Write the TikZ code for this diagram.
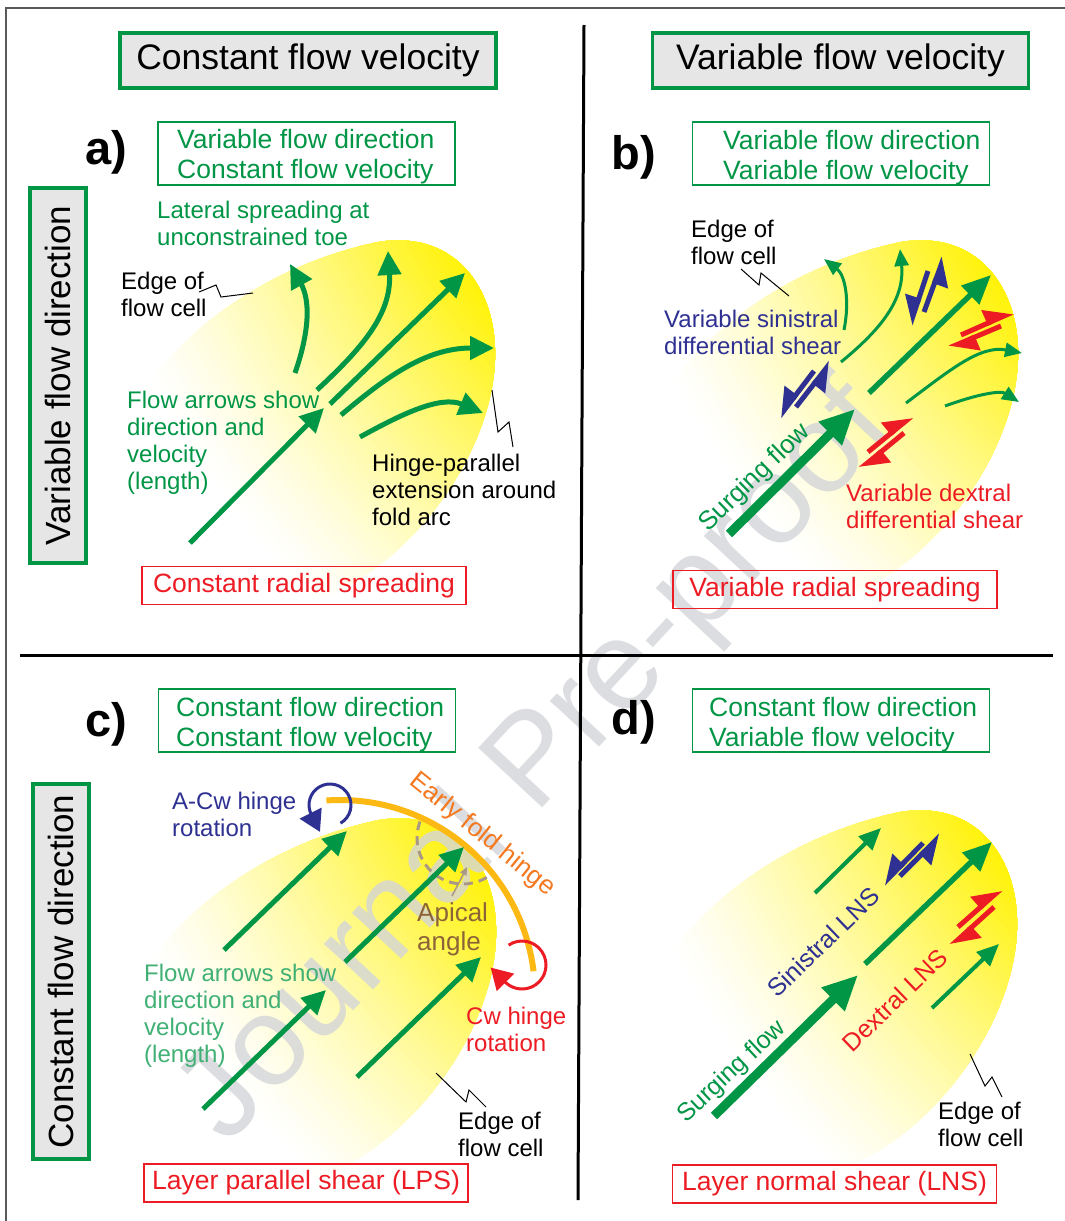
\documentclass[tikz,border=0pt]{standalone}
\usepackage{fontspec}
\setmainfont{Liberation Sans}
\usetikzlibrary{arrows.meta}
\definecolor{mygreen}{RGB}{0,150,70}
\definecolor{myred}{RGB}{237,28,36}
\definecolor{navy}{RGB}{46,49,146}
\definecolor{boxgray}{RGB}{230,230,230}
\definecolor{foldorange}{RGB}{253,185,19}
\definecolor{hingetext}{RGB}{244,121,32}
\definecolor{apical}{RGB}{140,100,55}
\definecolor{apicalgray}{RGB}{170,152,135}
\definecolor{wmark}{RGB}{212,213,217}
\begin{document}
\begin{tikzpicture}[x=1pt,y=-1pt,
  titlebox/.style={draw=mygreen, line width=3.5pt, fill=boxgray, minimum width=376pt, minimum height=55pt, inner sep=0pt, font=\fontsize{35.5}{40}\selectfont},
  sidebox/.style={draw=mygreen, line width=4pt, fill=boxgray, minimum width=375pt, minimum height=56pt, inner sep=0pt, rotate=90, font=\fontsize{35}{40}\selectfont},
  subbox/.style={draw=mygreen, line width=1.5pt, minimum width=297pt, minimum height=63pt, inner sep=0pt},
  subtxt/.style={text=mygreen, align=left, anchor=north west, inner sep=0pt, font=\fontsize{26.5}{30}\selectfont},
  redbox/.style={draw=myred, line width=1.5pt, minimum width=324pt, minimum height=38pt, inner sep=0pt, text=myred, font=\fontsize{26.5}{30}\selectfont},
  note/.style={align=left, anchor=north west, inner sep=0pt, font=\fontsize{24}{27}\selectfont},
  rottxt/.style={inner sep=0pt, font=\fontsize{25}{27}\selectfont},
  panlab/.style={inner sep=0pt, font=\fontsize{47}{50}\selectfont\bfseries},
  divider/.style={line width=3pt, black},
  leader/.style={line width=1pt, black},
  garrow/.style={draw=mygreen, line width=5pt, -{Triangle[length=24pt,width=23pt]}},
  gthick/.style={draw=mygreen, line width=9pt, -{Triangle[length=35pt,width=31pt]}},
  gmed/.style={draw=mygreen, line width=5.5pt, -{Triangle[length=29pt,width=25pt]}},
  gthin/.style={draw=mygreen, line width=3pt, -{Triangle[length=17pt,width=14pt]}},
  gthintwo/.style={draw=mygreen, line width=4pt, -{Triangle[length=22pt,width=19pt]}},
  sinharp/.style={draw=navy, line width=5pt, -{Stealth[harpoon,swap,inset=0pt,length=24pt,width=28pt]}},
  dexharp/.style={draw=myred, line width=5pt, -{Stealth[harpoon,inset=0pt,length=24pt,width=28pt]}},
  rotarrow/.style={line width=3pt, -{Triangle[length=21pt,width=24pt]}}
]
\useasboundingbox (0,0) rectangle (1065,1221);
\fill[white] (0,0) rectangle (1065,1221);

% yellow flow cells (graded fill, yellow at the upper-right apex)
\foreach \dx/\dy in {-522/-570, 1/-570, -521/8, 0/0} {
  \begin{scope}[shift={(\dx,\dy)}]
    \clip (640,1100) .. controls (600,1000) and (720,850) .. (900,812)
      .. controls (975,800) and (1015,855) .. (1017,918)
      .. controls (1020,1000) and (960,1100) .. (880,1150)
      .. controls (800,1200) and (680,1190) .. cycle;
    \foreach \r in {940,934,...,598} {
      \pgfmathsetmacro\p{min(100,100*(max(0.001,(940-\r)/340))^1.3)}
      \fill[yellow!\p!white] (1500,513) circle (\r);
    }
  \end{scope}
}

% watermark
\node[font=\fontsize{127}{130}\selectfont, text=wmark, text opacity=0.8, rotate=47, inner sep=0pt] (wm) at (538,765) {Journal Pre-proof};

% frame and dividers
\draw[gray!70!black, line width=1.2pt] (6,1221) -- (6,8) -- (1065,8);
\coordinate (vtop) at (584,25);
\coordinate (vbot) at (578,1200);
\coordinate (hleft) at (20,655);
\coordinate (hright) at (1053,655);
\draw[divider] (vtop) -- (vbot);
\draw[divider] (hleft) -- (hright);

% headers
\node[titlebox] (tA) at (308,60.5) {Constant flow velocity};
\node[titlebox] (tB) at (840.5,60.5) {Variable flow velocity};
\node[sidebox] (sA) at (58,375.5) {Variable flow direction};
\node[sidebox] (sC) at (61,971.5) {Constant flow direction};

% panel labels
\node[panlab] (la) at (106,152) {a)};
\node[panlab] (lb) at (634,157) {b)};
\node[panlab] (lc) at (106,724) {c)};
\node[panlab] (ld) at (634,722) {d)};

% subtitle boxes
\node[subbox] (bA) at (306.5,153.5) {};
\node[subtxt] (bAt) at (177,129.4) {Variable flow direction\\Constant flow velocity};
\node[subbox] (bB) at (841,153.5) {};
\node[subtxt] (bBt) at (723,130.4) {Variable flow direction\\Variable flow velocity};
\node[subbox] (bC) at (307,720.5) {};
\node[subtxt] (bCt) at (176,697.4) {Constant flow direction\\Constant flow velocity};
\node[subbox] (bD) at (841,720.5) {};
\node[subtxt] (bDt) at (709,697.4) {Constant flow direction\\Variable flow velocity};

% bottom red boxes
\node[redbox] (rA) at (304,585.5) {Constant radial spreading};
\node[redbox] (rB) at (835,589.5) {Variable radial spreading};
\node[redbox] (rC) at (306,1183) {Layer parallel shear (LPS)};
\node[redbox] (rD) at (834.5,1184) {Layer normal shear (LNS)};

% ---------- panel a ----------
\node[note, text=mygreen] (latA) at (157,201.4) {Lateral spreading at\\unconstrained toe};
\node[note] (edgeA) at (121,272.4) {Edge of\\flow cell};
\node[note, text=mygreen] (flowA) at (127,391.4) {Flow arrows show\\direction and\\velocity\\(length)};
\node[note] (hingeA) at (372,454.4) {Hinge-parallel\\extension around\\fold arc};
\draw[leader] (199,292) -- (216,285) -- (221,297) -- (253,293);
\draw[leader] (492,390) -- (498,432) -- (509,422) -- (513,447);
\draw[garrow] (295,373) .. controls (310,330) and (310,300) .. (290,264);
\draw[garrow] (317,390) .. controls (360,350) and (392,315) .. (388,251);
\draw[garrow] (190,543) -- (324,408);
\draw[garrow] (330,404) -- (465,273);
\draw[garrow] (341,415) .. controls (385,378) and (425,348) .. (494,348);
\draw[garrow] (360,437) .. controls (400,415) and (440,395) .. (483,413);

% ---------- panel b ----------
\node[note] (edgeB) at (691,220.4) {Edge of\\flow cell};
\node[note, text=navy] (sinB) at (664,310.4) {Variable sinistral\\differential shear};
\node[note, text=myred] (dexB) at (846,484.4) {Variable dextral\\differential shear};
\draw[leader] (741,269) -- (759,285) -- (761,273) -- (789,296);
\draw[gthin] (844,330) .. controls (850,300) and (845,275) .. (824,259);
\draw[gthin] (841,362) .. controls (880,330) and (905,300) .. (900,249);
\draw[gthin] (906,403) .. controls (950,370) and (980,345) .. (1022,353);
\draw[gthin] (945,406) .. controls (975,395) and (1000,390) .. (1019,402);
\draw[gthick] (729,534) -- (855,409);
\draw[gmed] (869,393) -- (991,275);
\draw[sinharp] (928,271) -- (910,325);
\draw[sinharp] (924,312) -- (944,257);
\draw[sinharp] (814,371) -- (779,417);
\draw[sinharp] (796,407) -- (831,362);
\draw[dexharp] (961,335) -- (1013,312);
\draw[dexharp] (1001,326) -- (949,348);
\draw[dexharp] (868,452) -- (912,416);
\draw[dexharp] (904,433) -- (860,469);
\node[rottxt, text=mygreen, rotate=44, font=\fontsize{26}{28}\selectfont] (surgeB) at (755,478) {Surging flow};

% ---------- panel c ----------
\draw[foldorange, line width=6pt] (340,995) ++(-94:195) arc[start angle=-94, end angle=-7, radius=195];
\draw[apicalgray, line width=3pt, dash pattern=on 9pt off 6pt] (463,838) ++(201:46) arc[start angle=201, end angle=56, radius=46];
\draw[apicalgray, line width=1.5pt, -{Triangle[length=8pt,width=7pt]}] (452,896) -- (467,867);
\draw[navy, rotarrow] (330,805) ++(60:21) arc[start angle=60, end angle=-205, radius=21] -- ++(9,18);
\draw[myred, rotarrow] (522,965) ++(-124:24) arc[start angle=-124, end angle=133, radius=24] -- ++(-15,-15);
\draw[garrow] (224,950) -- (347,831);
\draw[garrow] (345,962) -- (464,847);
\draw[garrow] (203,1109) -- (326,990);
\draw[garrow] (357,1077) -- (481,957);
\node[note, text=navy] (acwC) at (172,791.4) {A-Cw hinge\\rotation};
\node[note, text=apical, font=\fontsize{26}{29}\selectfont] (apC) at (417,902.6) {Apical\\angle};
\node[note, text=mygreen!75!white] (flowC) at (144,963.4) {Flow arrows show\\direction and\\velocity\\(length)};
\node[note, text=myred] (cwC) at (466,1006.4) {Cw hinge\\rotation};
\node[note] (edgeC) at (458,1111.4) {Edge of\\flow cell};
\draw[leader] (436,1073) -- (466,1102) -- (469,1090) -- (486,1107);
\node[rottxt, text=hingetext, rotate=-39, font=\fontsize{26}{28}\selectfont] (foldC) at (482,835) {Early fold hinge};

% ---------- panel d ----------
\draw[gthick] (714,1116) -- (858,975);
\draw[gmed] (865,964) -- (992,842);
\draw[gthintwo] (815,893) -- (881,828);
\draw[gthintwo] (932,1008) -- (999,944);
\draw[sinharp] (923,843) -- (883,884);
\draw[sinharp] (900,876) -- (941,835);
\draw[dexharp] (958,927) -- (1001,889);
\draw[dexharp] (994,907) -- (951,946);
\node[rottxt, text=mygreen, rotate=43] (surgeD) at (732,1072) {Surging flow};
\node[rottxt, text=navy, rotate=44] (sinD) at (823,942) {Sinistral LNS};
\node[rottxt, text=myred, rotate=44] (dexD) at (895,1000) {Dextral LNS};
\node[note] (edgeD) at (938,1101.4) {Edge of\\flow cell};
\draw[leader] (970,1054) -- (985,1086) -- (992,1077) -- (1002,1097);
\end{tikzpicture}
\end{document}
